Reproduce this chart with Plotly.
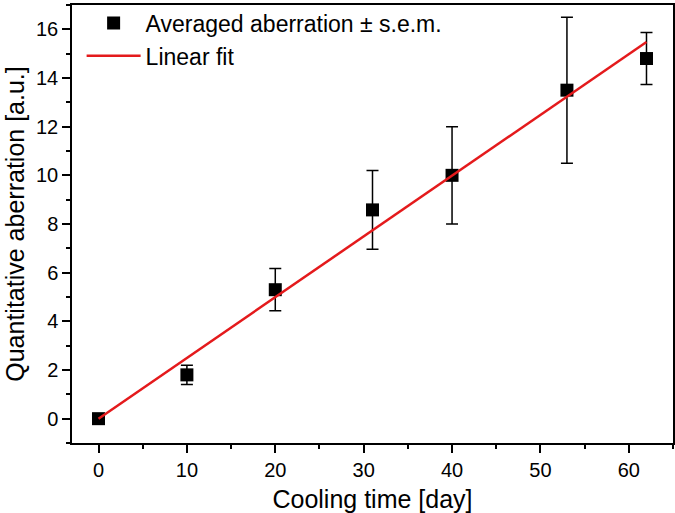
import plotly.graph_objects as go

cooling_days = [0, 10, 20, 31, 40, 53, 62]
aberration = [0.0, 1.8, 5.3, 8.58, 10.0, 13.5, 14.8]
sem = [0.05, 0.4, 0.87, 1.62, 2.0, 3.0, 1.07]
fit_x = [0, 62]
fit_y = [0.0, 15.48]

FONT = "Liberation Sans, Arial, sans-serif"

fig = go.Figure()
fig.add_trace(go.Scatter(
    x=cooling_days, y=aberration, mode="markers",
    name="Averaged aberration ± s.e.m.",
    marker=dict(symbol="square", size=13, color="black"),
    error_y=dict(type="data", array=sem, visible=True, color="black", thickness=1.5, width=6),
))
fig.add_trace(go.Scatter(
    x=fit_x, y=fit_y, mode="lines", name="Linear fit",
    line=dict(color="#e41a1c", width=2.5),
))

axis_common = dict(
    showline=True, linecolor="black", linewidth=1.5, mirror=True,
    ticks="outside", ticklen=8, tickwidth=1.5, tickcolor="black",
    showgrid=False, zeroline=False, automargin=False,
    tickfont=dict(family=FONT, size=20, color="black"),
)
minor_common = dict(ticks="outside", ticklen=4, tickwidth=1.5, tickcolor="black")

fig.update_layout(
    width=675, height=513,
    margin=dict(l=72, r=2, t=1, b=70),
    plot_bgcolor="white", paper_bgcolor="white",
    font=dict(family=FONT, color="black"),
    xaxis=dict(range=[-3, 65], tickvals=[0, 10, 20, 30, 40, 50, 60],
               minor=dict(dtick=5, tick0=0, **minor_common),
               title=dict(text="Cooling time [day]", font=dict(family=FONT, size=25), standoff=14),
               **axis_common),
    yaxis=dict(range=[-1, 17], tickvals=[0, 2, 4, 6, 8, 10, 12, 14, 16],
               minor=dict(dtick=1, tick0=0, **minor_common),
               title=dict(text="Quantitative aberration [a.u.]", font=dict(family=FONT, size=25), standoff=4),
               **axis_common),
    legend=dict(x=0.016, y=1.008, xanchor="left", yanchor="top",
                bgcolor="rgba(0,0,0,0)", font=dict(family=FONT, size=23, color="black"),
                tracegroupgap=0, itemwidth=54),
    showlegend=True,
)

fig.write_html("out.html", config={"displayModeBar": False},
               post_script="document.body.style.margin='0';document.body.style.overflow='hidden';")
